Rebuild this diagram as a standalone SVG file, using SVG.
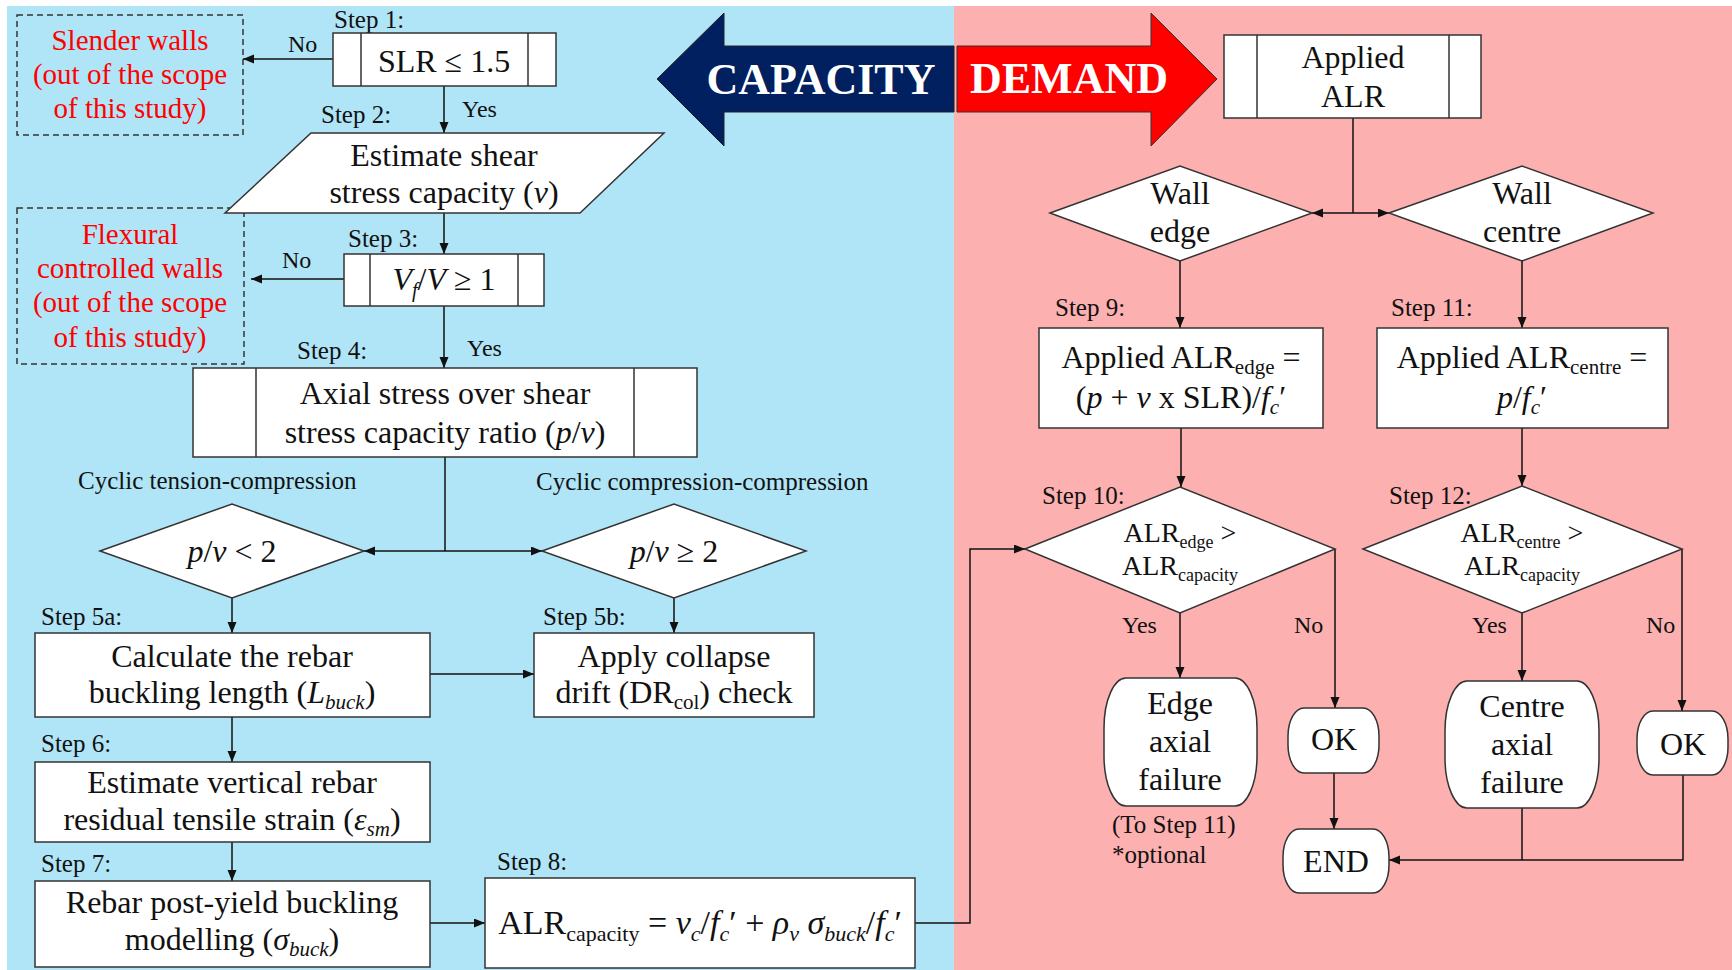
<svg xmlns="http://www.w3.org/2000/svg" width="1732" height="970" viewBox="0 0 1732 970">
  <defs>
    <marker id="ah" markerUnits="userSpaceOnUse" markerWidth="12" markerHeight="10" refX="11" refY="4.5" orient="auto">
      <path d="M0,0 L11,4.5 L0,9 z" fill="#111"/>
    </marker>
    <style>
      text { font-family: "Liberation Serif", "Times New Roman", serif; fill: #111; }
      .node { fill: #fff; stroke: #333; stroke-width: 1.5; }
      .inner { stroke: #333; stroke-width: 1.5; fill: none; }
      .dash { fill: none; stroke: #333; stroke-width: 1.5; stroke-dasharray: 6 4; }
      .t { font-size: 32px; text-anchor: middle; }
      .f { font-size: 34px; text-anchor: middle; }
      .d { font-size: 28px; text-anchor: middle; }
      .red { font-size: 29px; text-anchor: middle; fill: #ff0000; }
      .lbl { font-size: 25px; }
      .yn { font-size: 24px; }
      .big { font-size: 44px; font-weight: bold; fill: #fff; text-anchor: middle; }
      .i { font-style: italic; }
      .conn path { fill: none; stroke: #111; stroke-width: 1.5; }
      .arr { marker-end: url(#ah); }
    </style>
  </defs>

  <!-- backgrounds -->
  <rect x="0" y="0" width="1732" height="970" fill="#fff"/>
  <rect x="7" y="6" width="947" height="964" fill="#b0e5f7"/>
  <rect x="954" y="6" width="778" height="964" fill="#fdb0b0"/>

  <!-- banner arrows -->
  <g id="capacity-arrow">
    <polygon points="657,79 724,13 724,46 954,46 954,112 724,112 724,146" fill="#002060" stroke="#222" stroke-width="1"/>
    <text x="821" y="94" class="big">CAPACITY</text>
  </g>
  <g id="demand-arrow">
    <polygon points="957,46 1151,46 1151,13 1217,79 1151,146 1151,112 957,112" fill="#ff0000" stroke="#333" stroke-width="1"/>
    <text x="1069" y="93" class="big">DEMAND</text>
  </g>

  <!-- connectors -->
  <g id="connectors" class="conn">
    <path class="arr" d="M333,59 H243"/>
    <path class="arr" d="M444,86 V133"/>
    <path class="arr" d="M444,213 V254"/>
    <path class="arr" d="M344,279 H251"/>
    <path class="arr" d="M444,306 V368"/>
    <path d="M445,457 V551"/>
    <path class="arr" d="M445,551 H364"/>
    <path class="arr" d="M445,551 H542"/>
    <path class="arr" d="M232,598 V633"/>
    <path class="arr" d="M674,598 V633"/>
    <path class="arr" d="M430,674 H534"/>
    <path class="arr" d="M232,717 V762"/>
    <path class="arr" d="M232,842 V881"/>
    <path class="arr" d="M430,923 H485"/>
    <path class="arr" d="M915,923 H970 V549 H1025"/>
    <path d="M1353,118 V213"/>
    <path class="arr" d="M1353,213 H1312"/>
    <path class="arr" d="M1353,213 H1389"/>
    <path class="arr" d="M1180,261 V328"/>
    <path class="arr" d="M1522,261 V328"/>
    <path class="arr" d="M1181,428 V487"/>
    <path class="arr" d="M1522,428 V486"/>
    <path class="arr" d="M1180,613 V678"/>
    <path class="arr" d="M1335,549 V708"/>
    <path class="arr" d="M1522,613 V681"/>
    <path class="arr" d="M1682,549 V711"/>
    <path class="arr" d="M1334,773 V829"/>
    <path class="arr" d="M1683,775 V860 H1389"/>
    <path d="M1522,808 V860"/>
  </g>

  <!-- connector labels -->
  <g id="branch-labels">
    <text x="288" y="52" class="yn">No</text>
    <text x="462" y="117" class="yn">Yes</text>
    <text x="282" y="268" class="yn">No</text>
    <text x="467" y="356" class="yn">Yes</text>
    <text x="78" y="489" class="lbl">Cyclic tension-compression</text>
    <text x="536" y="490" class="lbl">Cyclic compression-compression</text>
    <text x="1122" y="633" class="yn">Yes</text>
    <text x="1294" y="633" class="yn">No</text>
    <text x="1472" y="633" class="yn">Yes</text>
    <text x="1646" y="633" class="yn">No</text>
  </g>

  <!-- out-of-scope boxes -->
  <g id="slender">
    <rect x="17" y="15" width="226" height="120" class="dash"/>
    <text class="red" x="130" y="50">Slender walls</text>
    <text class="red" x="130" y="84">(out of the scope</text>
    <text class="red" x="130" y="118">of this study)</text>
  </g>
  <g id="flexural">
    <rect x="17" y="208" width="227" height="156" class="dash"/>
    <text class="red" x="130" y="244">Flexural</text>
    <text class="red" x="130" y="278">controlled walls</text>
    <text class="red" x="130" y="312">(out of the scope</text>
    <text class="red" x="130" y="347">of this study)</text>
  </g>

  <!-- capacity steps -->
  <g id="step1">
    <text x="334" y="28" class="lbl">Step 1:</text>
    <rect x="333" y="33" width="223" height="53" class="node"/>
    <path d="M361,33 V86 M528,33 V86" class="inner"/>
    <text x="444" y="72" class="t">SLR ≤ 1.5</text>
  </g>
  <g id="step2">
    <text x="321" y="123" class="lbl">Step 2:</text>
    <polygon points="311,133 664,133 580,213 225,213" class="node"/>
    <text x="444" y="166" class="t">Estimate shear</text>
    <text x="444" y="203" class="t">stress capacity (<tspan class="i">v</tspan>)</text>
  </g>
  <g id="step3">
    <text x="348" y="247" class="lbl">Step 3:</text>
    <rect x="344" y="254" width="200" height="52" class="node"/>
    <path d="M370,254 V306 M518,254 V306" class="inner"/>
    <text x="444" y="290" class="t"><tspan class="i">V</tspan><tspan class="i" font-size="20" dy="7">f</tspan><tspan dy="-7">/</tspan><tspan class="i">V</tspan> ≥ 1</text>
  </g>
  <g id="step4">
    <text x="297" y="359" class="lbl">Step 4:</text>
    <rect x="193" y="368" width="504" height="89" class="node"/>
    <path d="M256,368 V457 M634,368 V457" class="inner"/>
    <text x="445" y="404" class="t">Axial stress over shear</text>
    <text x="445" y="443" class="t">stress capacity ratio (<tspan class="i">p</tspan>/<tspan class="i">v</tspan>)</text>
  </g>
  <g id="tension-compression">
    <polygon points="100,551 232,504 364,551 232,598" class="node"/>
    <text x="232" y="562" class="t"><tspan class="i">p</tspan>/<tspan class="i">v</tspan> &lt; 2</text>
  </g>
  <g id="compression-compression">
    <polygon points="542,551 674,504 806,551 674,598" class="node"/>
    <text x="674" y="562" class="t"><tspan class="i">p</tspan>/<tspan class="i">v</tspan> ≥ 2</text>
  </g>
  <g id="step5a">
    <text x="41" y="625" class="lbl">Step 5a:</text>
    <rect x="35" y="633" width="395" height="84" class="node"/>
    <text x="232" y="667" class="t">Calculate the rebar</text>
    <text x="232" y="703" class="t">buckling length (<tspan class="i">L</tspan><tspan class="i" font-size="21" dy="6">buck</tspan><tspan dy="-6">)</tspan></text>
  </g>
  <g id="step5b">
    <text x="543" y="625" class="lbl">Step 5b:</text>
    <rect x="534" y="633" width="280" height="84" class="node"/>
    <text x="674" y="667" class="t">Apply collapse</text>
    <text x="674" y="703" class="t">drift (DR<tspan font-size="21" dy="6">col</tspan><tspan dy="-6">) check</tspan></text>
  </g>
  <g id="step6">
    <text x="41" y="752" class="lbl">Step 6:</text>
    <rect x="35" y="762" width="395" height="80" class="node"/>
    <text x="232" y="793" class="t">Estimate vertical rebar</text>
    <text x="232" y="830" class="t">residual tensile strain (<tspan class="i">ε</tspan><tspan class="i" font-size="21" dy="6">sm</tspan><tspan dy="-6">)</tspan></text>
  </g>
  <g id="step7">
    <text x="41" y="872" class="lbl">Step 7:</text>
    <rect x="35" y="881" width="395" height="86" class="node"/>
    <text x="232" y="913" class="t">Rebar post-yield buckling</text>
    <text x="232" y="950" class="t">modelling (<tspan class="i">σ</tspan><tspan class="i" font-size="21" dy="6">buck</tspan><tspan dy="-6">)</tspan></text>
  </g>
  <g id="step8">
    <text x="497" y="870" class="lbl">Step 8:</text>
    <rect x="485" y="878" width="430" height="90" class="node"/>
    <text x="700" y="934" class="f">ALR<tspan font-size="22" dy="7">capacity</tspan><tspan dy="-7"> = </tspan><tspan class="i">v</tspan><tspan class="i" font-size="22" dy="7">c</tspan><tspan dy="-7">/</tspan><tspan class="i">f</tspan><tspan class="i" font-size="22" dy="7">c</tspan><tspan dy="-7">′ + </tspan><tspan class="i">ρ</tspan><tspan class="i" font-size="22" dy="7">v</tspan><tspan dy="-7"> </tspan><tspan class="i">σ</tspan><tspan class="i" font-size="22" dy="7">buck</tspan><tspan dy="-7">/</tspan><tspan class="i">f</tspan><tspan class="i" font-size="22" dy="7">c</tspan><tspan dy="-7">′</tspan></text>
  </g>

  <!-- demand steps -->
  <g id="applied-alr">
    <rect x="1224" y="35" width="257" height="83" class="node"/>
    <path d="M1257,35 V118 M1449,35 V118" class="inner"/>
    <text x="1353" y="68" class="t">Applied</text>
    <text x="1353" y="107" class="t">ALR</text>
  </g>
  <g id="wall-edge">
    <polygon points="1050,213 1180,166 1312,213 1180,261" class="node"/>
    <text x="1180" y="204" class="t">Wall</text>
    <text x="1180" y="242" class="t">edge</text>
  </g>
  <g id="wall-centre">
    <polygon points="1389,213 1522,166 1653,213 1522,261" class="node"/>
    <text x="1522" y="204" class="t">Wall</text>
    <text x="1522" y="242" class="t">centre</text>
  </g>
  <g id="step9">
    <text x="1055" y="316" class="lbl">Step 9:</text>
    <rect x="1039" y="328" width="284" height="100" class="node"/>
    <text x="1181" y="368" class="t">Applied ALR<tspan font-size="21" dy="6">edge</tspan><tspan dy="-6"> =</tspan></text>
    <text x="1181" y="408" class="t">(<tspan class="i">p</tspan> + <tspan class="i">v</tspan> x SLR)/<tspan class="i">f</tspan><tspan class="i" font-size="21" dy="6">c</tspan><tspan dy="-6">′</tspan></text>
  </g>
  <g id="step11">
    <text x="1391" y="316" class="lbl">Step 11:</text>
    <rect x="1377" y="328" width="291" height="100" class="node"/>
    <text x="1522" y="368" class="t">Applied ALR<tspan font-size="21" dy="6">centre</tspan><tspan dy="-6"> =</tspan></text>
    <text x="1522" y="408" class="t"><tspan class="i">p</tspan>/<tspan class="i">f</tspan><tspan class="i" font-size="21" dy="6">c</tspan><tspan dy="-6">′</tspan></text>
  </g>
  <g id="step10">
    <text x="1042" y="504" class="lbl">Step 10:</text>
    <polygon points="1025,549 1180,487 1335,549 1180,613" class="node"/>
    <text x="1180" y="542" class="d">ALR<tspan font-size="18" dy="6">edge</tspan><tspan dy="-6"> &gt;</tspan></text>
    <text x="1180" y="575" class="d">ALR<tspan font-size="18" dy="6">capacity</tspan></text>
  </g>
  <g id="step12">
    <text x="1389" y="504" class="lbl">Step 12:</text>
    <polygon points="1363,549 1522,486 1682,549 1522,613" class="node"/>
    <text x="1522" y="542" class="d">ALR<tspan font-size="18" dy="6">centre</tspan><tspan dy="-6"> &gt;</tspan></text>
    <text x="1522" y="575" class="d">ALR<tspan font-size="18" dy="6">capacity</tspan></text>
  </g>
  <g id="edge-failure">
    <rect x="1104" y="678" width="153" height="128" rx="22" ry="50" class="node"/>
    <text x="1180" y="714" class="t">Edge</text>
    <text x="1180" y="752" class="t">axial</text>
    <text x="1180" y="790" class="t">failure</text>
    <text x="1112" y="833" class="lbl">(To Step 11)</text>
    <text x="1112" y="863" class="lbl">*optional</text>
  </g>
  <g id="ok-edge">
    <rect x="1288" y="708" width="91" height="65" rx="16" ry="28" class="node"/>
    <text x="1334" y="750" class="t">OK</text>
  </g>
  <g id="centre-failure">
    <rect x="1445" y="681" width="154" height="127" rx="22" ry="50" class="node"/>
    <text x="1522" y="717" class="t">Centre</text>
    <text x="1522" y="755" class="t">axial</text>
    <text x="1522" y="793" class="t">failure</text>
  </g>
  <g id="ok-centre">
    <rect x="1637" y="711" width="91" height="64" rx="16" ry="28" class="node"/>
    <text x="1683" y="755" class="t">OK</text>
  </g>
  <g id="end">
    <rect x="1283" y="829" width="106" height="64" rx="16" ry="28" class="node"/>
    <text x="1336" y="872" class="t">END</text>
  </g>
</svg>
